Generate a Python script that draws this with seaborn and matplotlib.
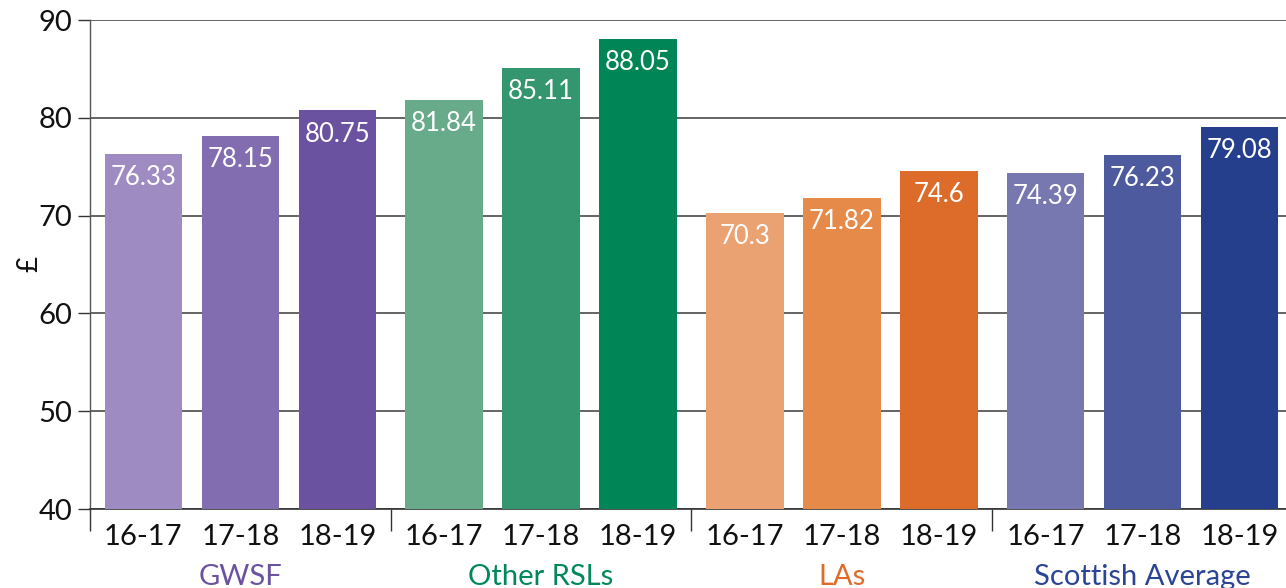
import matplotlib
matplotlib.use("Agg")
import matplotlib.pyplot as plt
import matplotlib.transforms as mtransforms
import seaborn as sns
import pandas as pd

# Data
groups = ["GWSF", "Other RSLs", "LAs", "Scottish Average"]
years = ["16-17", "17-18", "18-19"]
gwsf = [76.33, 78.15, 80.75]
other_rsls = [81.84, 85.11, 88.05]
las = [70.3, 71.82, 74.6]
scottish_avg = [74.39, 76.23, 79.08]

bar_colors = [
    "#9e8bc1", "#826db0", "#6b52a0",
    "#68ab8a", "#34966f", "#008556",
    "#eba272", "#e68a4a", "#dd6b2a",
    "#7878b0", "#4d5a9e", "#263f8d",
]
group_colors = ["#6b52a0", "#00875a", "#e06a28", "#2b4496"]

# Layout of bars along a numeric x axis
group_width = 3.1
first_offset = 0.55

rows = []
for g, (name, vals) in enumerate(zip(groups, [gwsf, other_rsls, las, scottish_avg])):
    for j, (yr, v) in enumerate(zip(years, vals)):
        rows.append({"group": name, "year": yr, "value": v,
                     "pos": g * group_width + first_offset + j,
                     "key": f"{name} {yr}"})
df = pd.DataFrame(rows)

sns.set_theme(style="white")
plt.rcParams["font.family"] = ["Lato", "DejaVu Sans"]

fig = plt.figure(figsize=(12.86, 5.88), dpi=100)
ax = fig.add_axes([90 / 1286, 79 / 588, 1 - 90 / 1286, 489 / 588])

sns.barplot(data=df, x="pos", y="value", hue="key", palette=bar_colors,
            native_scale=True, width=0.8, saturation=1, legend=False,
            linewidth=0, ax=ax, zorder=3)

ax.set_ylim(40, 90)
ax.set_xlim(0, (1286 - 90) / 97)
ax.set_yticks(range(40, 91, 10))
ax.yaxis.grid(True, color="#3a3a3a", linewidth=1.1, zorder=0)
ax.set_axisbelow(True)

# Group separators as major ticks, year labels as minor ticks
ax.set_xticks([g * group_width for g in range(len(groups))])
ax.set_xticklabels([])
ax.set_xticks(df["pos"], minor=True)
ax.set_xticklabels(df["year"], minor=True, fontsize=21, color="#111111")
ax.tick_params(axis="x", which="major", length=16, width=1, color="#333333",
               direction="out", bottom=True)
ax.tick_params(axis="x", which="minor", length=0, pad=11)
ax.tick_params(axis="y", length=9, width=1, color="#333333", direction="out",
               left=True, labelsize=21, labelcolor="#111111", pad=4)

for side in ["top", "right"]:
    ax.spines[side].set_visible(False)
ax.spines["left"].set_color("#555555")
ax.spines["left"].set_linewidth(1)
ax.spines["bottom"].set_color("#333333")
ax.spines["bottom"].set_linewidth(1.2)

ax.set_xlabel("")
ax.set_ylabel("£", fontsize=20, color="#111111")
ax.yaxis.set_label_coords(-48 / 1196, 0.5)

# Value labels inside the bar tops
for _, r in df.iterrows():
    ax.annotate(f"{r['value']:g}", xy=(r["pos"], r["value"]),
                xytext=(0, -8), textcoords="offset points",
                ha="center", va="top", color="white", fontsize=18.5, zorder=5)

# Group names under the year labels
trans = mtransforms.blended_transform_factory(ax.transData, ax.transAxes)
for g, (name, col) in enumerate(zip(groups, group_colors)):
    cx = g * group_width + first_offset + 1
    ax.text(cx, -0.112, name, transform=trans, ha="center", va="top",
            fontsize=21, color=col)

fig.savefig("out.png", dpi=100)
